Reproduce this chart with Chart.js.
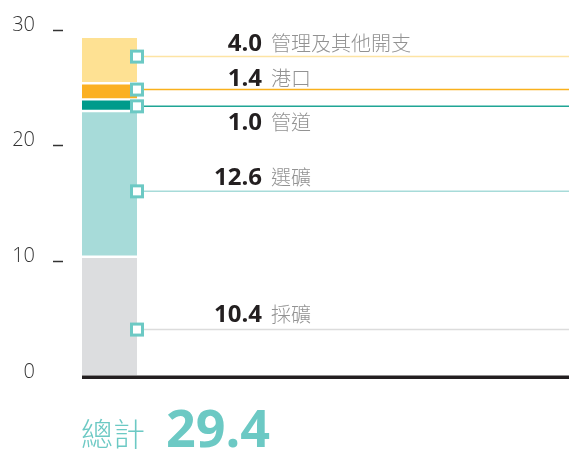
<!DOCTYPE html>
<html>
<head>
<meta charset="utf-8">
<script src="https://cdn.jsdelivr.net/npm/chart.js@4"></script>
<style>
  html, body { margin: 0; padding: 0; background: #fff; }
</style>
</head>
<body>
<canvas id="costChart" width="569" height="451"></canvas>
<script>
// data, bottom to top of the stack
const categories = ['採礦', '選礦', '管道', '港口', '管理及其他開支'];
const values = [10.4, 12.6, 1.0, 1.4, 4.0];
const markerAt = [4.1, 16.05, 23.4, 24.85, 27.7]; // where each leader line leaves the bar
const yTicks = [0, 10, 20, 30];
const totalLabel = '總計';
const totalValue = 29.4;

// styles
const fills = ['#dcdddf', '#a7dbd9', '#009b8b', '#fbb022', '#fee193'];
const lineColors = ['#dcdcdc', '#a7dbd9', '#1fa595', '#f9b11c', '#fde4a4'];
const labelDy = [-7.5, -6.5, 23.5, -3.5, -5.5];
const teal = '#6cc9c4';

const leaders = {
  id: 'leaders',
  afterDatasetsDraw(chart) {
    const { ctx, width, chartArea } = chart;
    const y = chart.scales.y;
    const zero = y.getPixelForValue(0);
    ctx.save();

    // baseline across the whole page
    ctx.fillStyle = '#231f20';
    ctx.fillRect(chartArea.left, zero - 1.5, width - chartArea.left, 3.5);

    values.forEach((v, i) => {
      const bar = chart.getDatasetMeta(i).data[0];
      const x0 = bar.x + bar.width / 2;
      const py = y.getPixelForValue(markerAt[i]);
      ctx.strokeStyle = lineColors[i];
      ctx.lineWidth = 1.5;
      ctx.beginPath();
      ctx.moveTo(x0, py);
      ctx.lineTo(width, py);
      ctx.stroke();

      ctx.textBaseline = 'alphabetic';
      ctx.textAlign = 'right';
      ctx.fillStyle = '#231f20';
      ctx.font = 'bold 24px "Open Sans"';
      ctx.fillText(v.toFixed(1), 262, py + labelDy[i]);
      ctx.textAlign = 'left';
      ctx.fillStyle = '#929292';
      ctx.font = '300 20px "Noto Sans CJK TC"';
      ctx.fillText(categories[i], 271, py + labelDy[i]);
    });

    // square markers on the bar edge
    values.forEach((v, i) => {
      const bar = chart.getDatasetMeta(i).data[0];
      const x0 = bar.x + bar.width / 2;
      const py = y.getPixelForValue(markerAt[i]);
      ctx.fillStyle = '#fff';
      ctx.fillRect(x0 - 6, py - 6, 12, 12);
      ctx.strokeStyle = teal;
      ctx.lineWidth = 3;
      ctx.strokeRect(x0 - 5.5, py - 5.5, 11, 11);
    });

    // total
    ctx.fillStyle = teal;
    ctx.textAlign = 'left';
    ctx.font = '300 32px "Noto Sans CJK TC"';
    ctx.fillText(totalLabel, 81, 446);
    ctx.font = 'bold 52px "Open Sans"';
    ctx.fillText(totalValue.toFixed(1), 166, 447);
    ctx.restore();
  }
};

new Chart(document.getElementById('costChart'), {
  type: 'bar',
  data: {
    labels: [totalLabel],
    datasets: values.map((v, i) => ({
      label: categories[i],
      data: [v],
      backgroundColor: fills[i],
      borderColor: '#fff',
      borderWidth: { top: 1.5, bottom: 1.5, left: 0, right: 0 },
      borderSkipped: false,
      barPercentage: 1,
      categoryPercentage: 1
    }))
  },
  options: {
    responsive: false,
    animation: false,
    devicePixelRatio: 1,
    layout: { padding: { top: 30, right: 432, bottom: 74, left: 0 } },
    plugins: {
      legend: { display: false },
      tooltip: { enabled: false }
    },
    scales: {
      x: { stacked: true, display: false },
      y: {
        stacked: true,
        min: 0,
        max: 30,
        afterBuildTicks: s => { s.ticks = yTicks.map(v => ({ value: v })); },
        afterFit: s => { s.width = 82; },
        border: { display: false },
        grid: {
          drawOnChartArea: false,
          tickLength: 29,
          tickWidth: 1.5,
          tickBorderDash: [10, 40],
          tickColor: c => (c.tick && c.tick.value === 0) ? 'rgba(0,0,0,0)' : '#333'
        },
        ticks: {
          padding: 18,
          labelOffset: -5,
          color: '#333',
          font: { family: 'Open Sans', size: 20, weight: '300' }
        }
      }
    }
  },
  plugins: [leaders]
});
</script>
</body>
</html>
